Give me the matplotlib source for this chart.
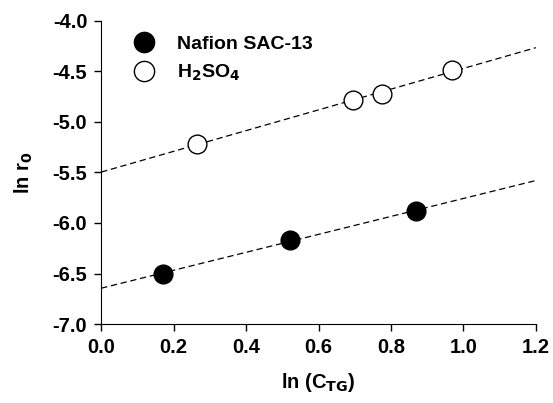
import matplotlib.pyplot as plt
import numpy as np

plt.rcParams['font.family'] = ['Liberation Sans', 'DejaVu Sans']
plt.rcParams['font.weight'] = 'bold'
plt.rcParams['mathtext.default'] = 'bf'

# data
nafion_x = [0.171, 0.521, 0.869]
nafion_y = [-6.50, -6.17, -5.88]
h2so4_x = [0.265, 0.695, 0.774, 0.969]
h2so4_y = [-5.22, -4.78, -4.72, -4.49]

xticks = [0.0, 0.2, 0.4, 0.6, 0.8, 1.0, 1.2]
yticks = [-7.0, -6.5, -6.0, -5.5, -5.0, -4.5, -4.0]


def main():
    fig = plt.figure(figsize=(5.53, 4.03), dpi=100)
    ax = fig.add_axes([0.183, 0.196, 0.786, 0.752])

    xl = np.array([0.0, 1.2])
    for xs, ys in [(nafion_x, nafion_y), (h2so4_x, h2so4_y)]:
        k, b = np.polyfit(xs, ys, 1)
        ax.plot(xl, k * xl + b, color='black', lw=0.9, ls=(0, (5, 3)), zorder=1)

    ax.plot(nafion_x, nafion_y, 'o', ms=13.5, mfc='black', mec='black',
            mew=1, label='Nafion SAC-13', zorder=3, clip_on=False)
    ax.plot(h2so4_x, h2so4_y, 'o', ms=13.5, mfc='white', mec='black',
            mew=1, label='H$_2$SO$_4$', zorder=3, clip_on=False)

    ax.set_xlim(0, 1.2)
    ax.set_ylim(-7.0, -4.0)
    ax.set_xticks(xticks)
    ax.set_yticks(yticks)
    ax.set_xticklabels(['%.1f' % v for v in xticks])
    ax.set_yticklabels(['%.1f' % v for v in yticks])
    ax.tick_params(direction='out', length=5, width=1, labelsize=14.5, pad=5)
    for s in ['top', 'right']:
        ax.spines[s].set_visible(False)

    ax.set_xlabel('ln (C$_{TG}$)', fontsize=14.5, fontweight='bold', labelpad=10)
    ax.set_ylabel('ln r$_0$', fontsize=14.5, fontweight='bold', labelpad=13)

    ax.legend(loc='upper left', bbox_to_anchor=(0.028, 0.99), frameon=False,
              fontsize=14, handletextpad=0.65, labelspacing=0.5, borderaxespad=0.2,
              markerscale=1.08)

    plt.savefig('out.png', dpi=100)


if __name__ == "__main__":
    main()
